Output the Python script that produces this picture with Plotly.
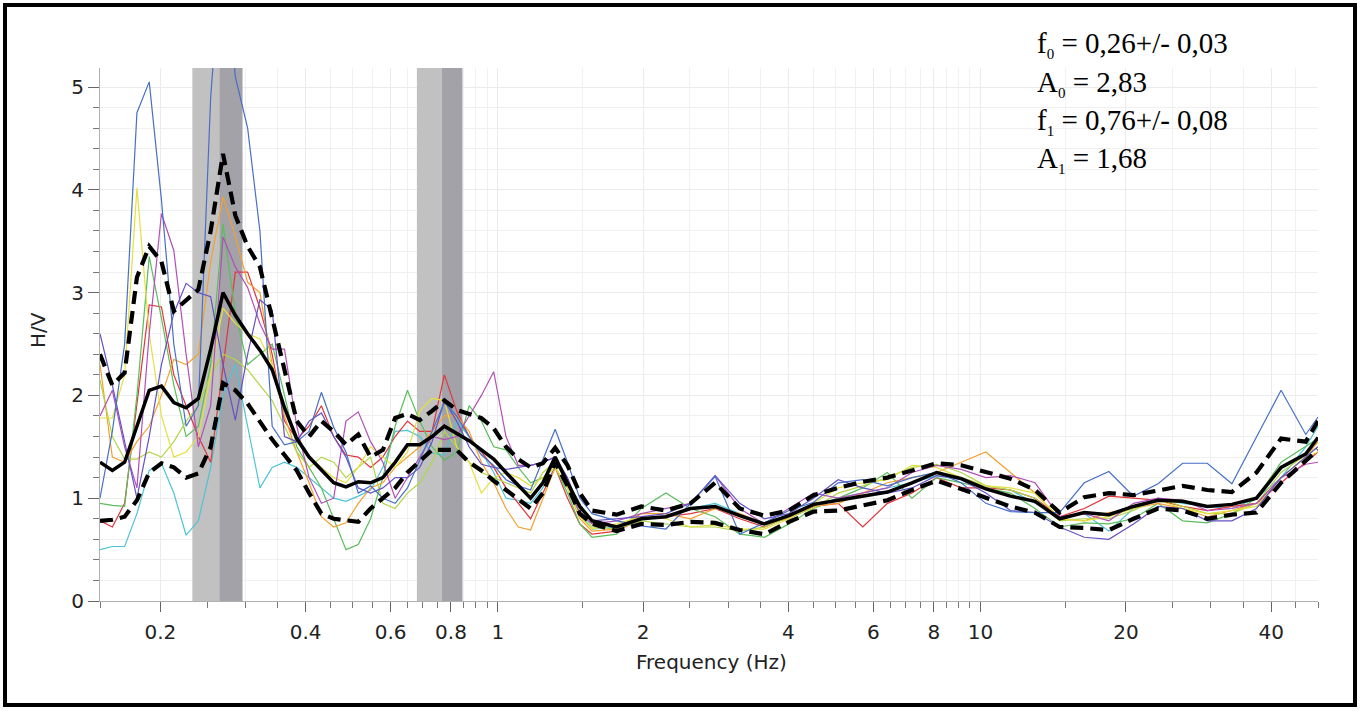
import math
import plotly.graph_objects as go

# ---------------- data ----------------
FREQ = [0.150, 0.1591, 0.1687, 0.1789, 0.1897, 0.2011, 0.2133, 0.2262, 0.2398, 0.2543,
        0.2697, 0.2860, 0.3033, 0.3216, 0.3410, 0.3616, 0.3834, 0.4066, 0.4312, 0.4572,
        0.4848, 0.5141, 0.5452, 0.5781, 0.6130, 0.6501, 0.6893, 0.7310, 0.7751, 0.8220,
        0.8722, 0.9249, 0.9808, 1.0400, 1.1028, 1.1695, 1.2401, 1.3150, 1.3945, 1.4787,
        1.5680,
        1.763, 1.983, 2.230, 2.508, 2.820, 3.171, 3.566, 4.010, 4.509, 5.071,
        5.702, 6.413, 7.211, 8.109, 9.119, 10.255, 11.532, 12.968, 14.582, 16.40,
        18.44, 20.74, 23.32, 26.22, 29.49, 33.16, 37.29, 41.93, 47.16, 50.0]

HV_MEAN = [1.35, 1.27, 1.35, 1.70, 2.05, 2.09, 1.93, 1.88, 1.97, 2.45, 3.00, 2.78, 2.60, 2.44, 2.25,
           1.88, 1.58, 1.40, 1.27, 1.15, 1.11, 1.16, 1.15, 1.20, 1.35, 1.52, 1.52, 1.60, 1.70, 1.63,
           1.56, 1.47, 1.38, 1.25, 1.13, 1.00, 1.15, 1.40, 1.15, 0.92, 0.78,
           0.72, 0.80, 0.82, 0.90, 0.92, 0.83, 0.75, 0.83, 0.94, 0.98, 1.02, 1.06, 1.15, 1.25, 1.19,
           1.09, 1.02, 0.97, 0.80, 0.86, 0.84, 0.92, 0.98, 0.97, 0.92, 0.94, 1.00, 1.30, 1.43, 1.59]

HV_UPPER = [2.40, 2.10, 2.22, 3.15, 3.45, 3.30, 2.82, 2.92, 3.03, 3.60, 4.35, 3.75, 3.45, 3.25, 2.75,
            2.25, 1.75, 1.60, 1.75, 1.65, 1.52, 1.62, 1.40, 1.47, 1.78, 1.82, 1.76, 1.85, 1.95, 1.86,
            1.82, 1.78, 1.68, 1.50, 1.38, 1.30, 1.34, 1.49, 1.32, 1.05, 0.88,
            0.84, 0.92, 0.88, 0.95, 1.15, 0.90, 0.83, 0.88, 1.03, 1.10, 1.16, 1.20, 1.27, 1.34, 1.32,
            1.25, 1.19, 1.08, 0.86, 1.01, 1.05, 1.03, 1.07, 1.12, 1.08, 1.06, 1.25, 1.58, 1.55, 1.75]

HV_LOWER = [0.78, 0.79, 0.82, 0.98, 1.25, 1.34, 1.30, 1.20, 1.24, 1.50, 2.12, 2.05, 1.92, 1.75, 1.57,
            1.42, 1.27, 1.05, 0.85, 0.80, 0.78, 0.77, 0.90, 1.00, 1.10, 1.25, 1.36, 1.47, 1.47, 1.47,
            1.35, 1.27, 1.17, 1.08, 0.98, 0.90, 1.05, 1.35, 1.12, 0.85, 0.75,
            0.68, 0.75, 0.74, 0.77, 0.76, 0.69, 0.65, 0.77, 0.87, 0.88, 0.93, 0.98, 1.08, 1.17, 1.09,
            1.00, 0.92, 0.86, 0.72, 0.71, 0.69, 0.80, 0.90, 0.88, 0.80, 0.84, 0.86, 1.15, 1.36, 1.47]

WIN_BLUE = [1.00, 1.65, 2.50, 4.75, 5.05, 3.90, 2.50, 1.70, 1.90, 4.90, 6.50, 5.10, 4.60, 3.60, 1.70,
            1.52, 1.55, 1.65, 2.03, 1.69, 1.45, 1.05, 1.12, 1.00, 0.95, 1.10, 1.37, 1.65, 1.93, 1.80,
            1.60, 1.42, 1.32, 1.18, 1.12, 1.08, 1.37, 1.67, 1.35, 1.00, 0.85,
            0.78, 0.73, 0.70, 0.95, 1.21, 0.65, 0.76, 0.88, 0.96, 1.15, 1.18, 1.12, 1.20, 1.25, 1.15,
            0.95, 0.87, 0.86, 0.86, 1.15, 1.26, 1.02, 1.14, 1.34, 1.34, 1.14, 1.60, 2.05, 1.62, 1.79]

WIN_YELLOW = [1.78, 1.78, 2.20, 4.02, 2.60, 1.80, 1.40, 1.45, 1.60, 2.20, 2.85, 2.70, 2.60, 2.55, 2.30,
              1.90, 1.55, 1.40, 1.30, 1.20, 1.15, 1.30, 1.50, 1.40, 1.30, 1.45, 1.85, 1.97, 1.95, 1.50,
              1.35, 1.05, 1.20, 1.25, 1.20, 1.12, 1.20, 1.30, 1.10, 0.82, 0.70,
              0.75, 0.82, 0.80, 0.72, 0.74, 0.70, 0.70, 0.80, 0.95, 1.10, 1.15, 1.18, 1.32, 1.30, 1.20,
              1.12, 1.10, 1.05, 0.80, 0.78, 0.82, 0.90, 0.98, 0.90, 0.85, 0.88, 0.92, 1.20, 1.40, 1.45]

WIN_LIME = [2.15, 1.60, 1.38, 1.38, 1.45, 1.40, 1.55, 1.75, 1.90, 2.20, 2.40, 2.35, 2.25, 2.10, 1.95,
            1.70, 1.45, 1.30, 1.40, 1.35, 1.20, 1.30, 1.40, 0.95, 0.90, 1.05, 1.15, 1.35, 1.65, 1.50,
            1.35, 1.25, 1.20, 1.15, 1.10, 1.05, 1.25, 1.35, 1.15, 0.88, 0.72,
            0.70, 0.78, 0.75, 0.72, 0.72, 0.68, 0.72, 0.82, 0.90, 1.05, 1.12, 1.20, 1.30, 1.33, 1.25,
            1.12, 1.08, 1.00, 0.78, 0.80, 0.80, 0.88, 1.00, 0.92, 0.85, 0.85, 0.95, 1.25, 1.42, 1.50]

WIN_GREEN = [0.95, 0.93, 0.92, 2.00, 3.35, 2.75, 2.10, 1.60, 1.70, 2.30, 3.67, 2.80, 2.30, 2.40, 2.50,
             2.00, 1.50, 1.30, 1.10, 0.80, 0.50, 0.55, 0.80, 1.20, 1.70, 2.05, 1.75, 1.50, 1.37, 1.45,
             1.90, 1.75, 1.50, 1.47, 1.30, 1.15, 1.20, 1.30, 1.05, 0.75, 0.62,
             0.65, 0.90, 1.05, 0.90, 0.82, 0.65, 0.62, 0.75, 0.90, 1.00, 1.10, 1.25, 1.00, 1.20, 1.15,
             1.10, 1.05, 0.90, 0.72, 0.76, 0.75, 0.80, 0.95, 0.78, 0.76, 0.85, 1.00, 1.35, 1.50, 1.58]

WIN_RED = [0.78, 0.72, 0.95, 1.90, 2.88, 2.86, 2.20, 1.90, 1.60, 1.35, 2.30, 3.20, 3.20, 2.85, 2.40,
           1.75, 1.57, 1.70, 1.90, 1.60, 1.42, 1.40, 1.30, 1.40, 1.60, 1.75, 1.65, 1.65, 2.20, 1.85,
           1.60, 1.45, 1.30, 1.10, 0.95, 0.80, 1.05, 1.30, 1.00, 0.75, 0.65,
           0.68, 0.80, 0.82, 0.85, 0.90, 0.80, 0.72, 0.82, 0.92, 0.95, 0.72, 0.95, 1.05, 1.20, 1.10,
           1.10, 1.08, 1.00, 0.82, 0.90, 1.02, 1.00, 0.98, 0.92, 0.88, 0.92, 0.95, 1.15, 1.35, 1.45]

WIN_MAGENTA = [1.80, 2.05, 1.50, 1.10, 2.60, 3.77, 3.41, 2.40, 1.50, 1.90, 3.54, 3.25, 3.05, 2.70, 2.45,
               2.45, 1.70, 1.20, 0.95, 1.00, 1.75, 1.84, 1.55, 1.35, 1.00, 1.20, 1.40, 1.60, 1.57, 1.60,
               1.80, 2.00, 2.23, 1.60, 1.32, 1.32, 1.35, 1.40, 1.15, 0.85, 0.75,
               0.78, 0.85, 0.90, 0.95, 1.22, 0.90, 0.75, 0.90, 1.05, 1.00, 1.05, 1.10, 1.25, 1.32, 1.28,
               1.20, 1.22, 1.15, 0.82, 0.85, 0.78, 0.95, 1.00, 0.98, 0.88, 0.90, 0.95, 1.20, 1.33, 1.35]

WIN_ORANGE = [2.30, 1.40, 1.35, 1.55, 1.70, 2.00, 2.35, 2.30, 2.40, 3.30, 3.93, 3.55, 3.10, 3.00, 2.30,
              1.80, 1.45, 1.15, 0.82, 0.72, 0.76, 0.95, 1.10, 1.15, 1.30, 1.40, 1.50, 1.65, 1.80, 1.80,
              1.65, 1.35, 1.15, 0.90, 0.72, 0.69, 1.00, 1.30, 1.10, 0.80, 0.68,
              0.70, 0.85, 0.85, 0.80, 0.90, 0.85, 0.75, 0.80, 0.92, 0.95, 1.05, 1.15, 1.20, 1.25, 1.35,
              1.45, 1.25, 1.05, 0.80, 0.78, 0.86, 0.90, 0.95, 0.90, 0.82, 0.88, 0.95, 1.20, 1.40, 1.55]

WIN_CYAN = [0.50, 0.53, 0.53, 0.85, 1.27, 1.34, 1.05, 0.64, 0.78, 1.30, 2.00, 2.30, 1.70, 1.10, 1.30,
            1.35, 1.30, 1.20, 1.10, 1.00, 0.97, 1.02, 1.08, 1.30, 1.65, 1.66, 1.60, 1.44, 1.42, 1.75,
            1.60, 1.45, 1.25, 1.00, 0.98, 0.95, 1.10, 1.30, 1.10, 0.85, 0.70,
            0.72, 0.80, 0.82, 0.90, 0.95, 0.85, 0.75, 0.80, 0.92, 1.00, 1.05, 1.10, 1.15, 1.22, 1.20,
            1.12, 1.08, 0.95, 0.82, 0.85, 0.68, 0.90, 1.00, 0.95, 0.92, 0.90, 1.00, 1.20, 1.50, 1.70]

WIN_INDIGO = [2.60, 2.10, 1.55, 1.00, 1.60, 2.30, 2.80, 3.09, 3.00, 2.96, 2.30, 1.76, 2.40, 2.93, 2.83,
              1.60, 1.55, 1.75, 1.83, 1.60, 1.40, 1.10, 1.05, 1.10, 1.20, 1.20, 1.30, 1.55, 1.95, 1.75,
              1.50, 1.33, 1.30, 1.28, 1.30, 1.32, 1.35, 1.40, 1.20, 0.90, 0.78,
              0.80, 0.82, 0.85, 0.95, 1.22, 0.95, 0.80, 0.85, 1.00, 1.18, 1.10, 1.05, 1.10, 1.22, 1.18,
              1.05, 0.88, 0.86, 0.72, 0.62, 0.60, 0.75, 0.92, 0.90, 0.78, 0.78, 0.90, 1.20, 1.40, 1.50]

# peak bands (Hz): f/std .. f , f .. f*std
F0_BAND = [0.233, 0.265, 0.296]
F1_BAND = [0.680, 0.765, 0.845]

X_MAJOR = [0.2, 0.4, 0.6, 0.8, 1, 2, 4, 6, 8, 10, 20, 40]
X_MAJOR_TEXT = ["0.2", "0.4", "0.6", "0.8", "1", "2", "4", "6", "8", "10", "20", "40"]
X_MINOR = [0.15, 0.25, 0.3, 0.35, 0.45, 0.5, 0.55, 0.65, 0.7, 0.75, 0.85, 0.9, 0.95,
           1.5, 2.5, 3, 3.5, 4.5, 5, 5.5, 6.5, 7, 7.5, 8.5, 9, 9.5,
           15, 25, 30, 35, 45, 50]
Y_MAJOR = [0, 1, 2, 3, 4, 5]

SUB = '<sub><span style="font-size:15px">{}</span></sub>'
PEAK_TEXT = ["f" + SUB.format("0") + " = 0,26+/- 0,03",
             "A" + SUB.format("0") + " = 2,83",
             "f" + SUB.format("1") + " = 0,76+/- 0,08",
             "A" + SUB.format("1") + " = 1,68"]

WINDOWS = [
    (WIN_CYAN, "#4cc3d6"), (WIN_RED, "#e3343a"), (WIN_GREEN, "#5bbd5b"),
    (WIN_ORANGE, "#f5a02e"), (WIN_LIME, "#b2d646"), (WIN_YELLOW, "#e4e03e"),
    (WIN_MAGENTA, "#b24eb8"), (WIN_INDIGO, "#6651c6"), (WIN_BLUE, "#4670c6"),
]

for arr, _ in WINDOWS:
    assert len(arr) == len(FREQ), len(arr)
for arr in (HV_MEAN, HV_UPPER, HV_LOWER):
    assert len(arr) == len(FREQ), len(arr)

# ---------------- figure ----------------
W, H = 1361, 711
ML, MR, MT, MB = 100, 43, 68, 110
PW, PH = W - ML - MR, H - MT - MB
Y_TOP = 5.185

fig = go.Figure()

def band(x0, x1, color):
    fig.add_trace(go.Scatter(x=[x0, x1, x1, x0, x0], y=[0, 0, Y_TOP, Y_TOP, 0],
                             mode="lines", fill="toself", fillcolor=color,
                             line=dict(width=0), hoverinfo="skip", showlegend=False))

for b in (F0_BAND, F1_BAND):
    band(b[0], b[1], "#c1c1c1")
    band(b[1], b[2], "#a2a2a8")

for arr, col in WINDOWS:
    fig.add_trace(go.Scatter(x=FREQ, y=arr, mode="lines",
                             line=dict(color=col, width=1.2), showlegend=False))

for arr in (HV_UPPER, HV_LOWER):
    fig.add_trace(go.Scatter(x=FREQ, y=arr, mode="lines",
                             line=dict(color="black", width=4.2, dash="13px,7px"),
                             showlegend=False))
fig.add_trace(go.Scatter(x=FREQ, y=HV_MEAN, mode="lines",
                         line=dict(color="black", width=3.5), showlegend=False))

def px2paper_x(px):
    return (px - ML) / PW

def py2paper_y(py):
    return (H - MB - py) / PH

annotations = []
for txt, cy in zip(PEAK_TEXT, [44, 83, 121, 159]):
    annotations.append(dict(xref="paper", yref="paper", x=px2paper_x(1035), y=py2paper_y(cy),
                            xanchor="left", yanchor="middle", showarrow=False, text=txt,
                            font=dict(family="Liberation Serif", size=29, color="black")))
annotations.append(dict(xref="paper", yref="paper", x=px2paper_x(711), y=py2paper_y(662),
                        xanchor="center", yanchor="middle", showarrow=False,
                        text="Frequency (Hz)",
                        font=dict(family="DejaVu Sans", size=20, color="#222")))
annotations.append(dict(xref="paper", yref="paper", x=px2paper_x(38), y=py2paper_y(330),
                        xanchor="center", yanchor="middle", showarrow=False, textangle=-90,
                        text="H/V", font=dict(family="DejaVu Sans", size=20, color="#222")))

fig.update_layout(
    width=W, height=H,
    margin=dict(l=ML, r=MR, t=MT, b=MB, pad=0),
    paper_bgcolor="white", plot_bgcolor="white",
    showlegend=False,
    annotations=annotations,
    shapes=[dict(type="rect", xref="paper", yref="paper",
                 x0=px2paper_x(5), x1=px2paper_x(1355),
                 y0=py2paper_y(705), y1=py2paper_y(5),
                 line=dict(color="black", width=4), fillcolor="rgba(0,0,0,0)")],
    xaxis=dict(type="log", range=[math.log10(0.15), math.log10(50)],
               tickmode="array", tickvals=X_MAJOR, ticktext=X_MAJOR_TEXT,
               ticks="outside", ticklen=10, tickwidth=1, tickcolor="#666",
               showgrid=True, gridcolor="#ebebeb", gridwidth=1,
               showline=True, linecolor="#b0b0b0", linewidth=1, zeroline=False,
               tickfont=dict(family="DejaVu Sans", size=20, color="#222"),
               ticklabelstandoff=3,
               minor=dict(tickmode="array", tickvals=X_MINOR, ticks="outside", ticklen=6,
                          tickcolor="#777", showgrid=True, gridcolor="#f0f0f0")),
    yaxis=dict(range=[0, Y_TOP], tickmode="array", tickvals=Y_MAJOR,
               ticks="outside", ticklen=11, tickwidth=1, tickcolor="#666",
               showgrid=True, gridcolor="#ebebeb", gridwidth=1,
               showline=True, linecolor="#b0b0b0", linewidth=1, zeroline=False,
               tickfont=dict(family="DejaVu Sans", size=20, color="#222"),
               minor=dict(dtick=0.2, tick0=0, ticks="outside", ticklen=6,
                          tickcolor="#777", showgrid=True, gridcolor="#f0f0f0")),
)

fig.write_html("out.html", config={"displayModeBar": False},
               post_script="document.body.style.margin='0';document.body.style.overflow='hidden';")
